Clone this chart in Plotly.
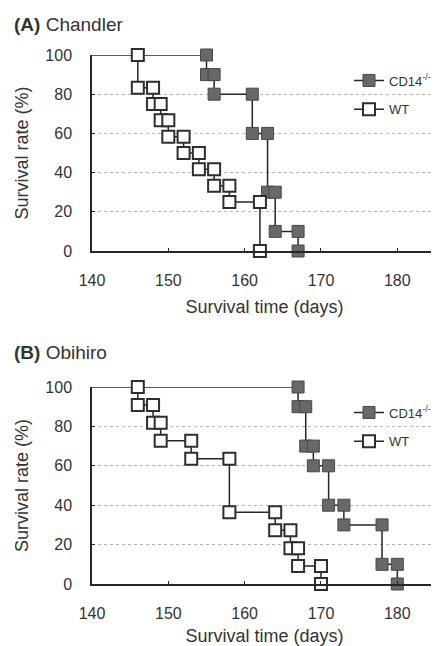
import plotly.graph_objects as go

# ---------------- data ----------------
start_day = 140
# Panel A – Chandler
a_cd14_days = [155, 156, 161, 163, 164, 167]
a_cd14_surv = [90, 80, 60, 30, 10, 0]
a_wt_days = [146, 148, 149, 150, 152, 154, 156, 158, 162]
a_wt_surv = [83.3, 75, 66.7, 58.3, 50, 41.7, 33.3, 25, 0]
# Panel B – Obihiro
b_cd14_days = [167, 168, 169, 171, 173, 178, 180]
b_cd14_surv = [90, 70, 60, 40, 30, 10, 0]
b_wt_days = [146, 148, 149, 153, 158, 164, 166, 167, 170]
b_wt_surv = [90.9, 81.8, 72.7, 63.6, 36.4, 27.3, 18.2, 9.1, 0]

x_ticks = [140, 150, 160, 170, 180]
y_ticks = [0, 20, 40, 60, 80, 100]
cd14_name = "CD14<sup>-/-</sup>"
wt_name = "WT"

# ---------------- helpers ----------------
def km_vertices(days, surv):
    xs, ys = [], []
    prev = 100
    for d, s in zip(days, surv):
        xs += [d, d]
        ys += [prev, s]
        prev = s
    return xs, ys

# page has an 8px body margin; the figure is sized to fit the window exactly
OFF = 8
W, H = 439 - OFF, 646 - OFF
ML, MR = 92 - OFF, 2
FONT = "Liberation Sans, Arial, Helvetica, sans-serif"
TXT = "#333333"
LINE = "#262626"

fig = go.Figure()

def add_panel(cd14_days, cd14_surv, wt_days, wt_surv, xa, ya, legend):
    # lead-in horizontal at 100 %
    fig.add_trace(go.Scatter(x=[start_day, max(cd14_days[0], wt_days[0])], y=[100, 100],
                             mode="lines", line=dict(color=LINE, width=1.5),
                             showlegend=False, hoverinfo="skip", xaxis=xa, yaxis=ya))
    x, y = km_vertices(cd14_days, cd14_surv)
    fig.add_trace(go.Scatter(x=x, y=y, mode="lines+markers", name=cd14_name,
                             line=dict(color=LINE, width=1.5),
                             marker=dict(symbol="square", size=12, color="#686868",
                                         line=dict(color="#474747", width=1)),
                             cliponaxis=False, xaxis=xa, yaxis=ya, legend=legend,
                             legendgroup=legend + "c"))
    x, y = km_vertices(wt_days, wt_surv)
    fig.add_trace(go.Scatter(x=x, y=y, mode="lines+markers", name=wt_name,
                             line=dict(color=LINE, width=1.5),
                             marker=dict(symbol="square", size=12, color="white",
                                         line=dict(color="#2e2e2e", width=2)),
                             cliponaxis=False, xaxis=xa, yaxis=ya, legend=legend,
                             legendgroup=legend + "w"))

add_panel(a_cd14_days, a_cd14_surv, a_wt_days, a_wt_surv, "x", "y", "legend")
add_panel(b_cd14_days, b_cd14_surv, b_wt_days, b_wt_surv, "x2", "y2", "legend2")

def px_y(page_px):
    return 1 - (page_px - OFF) / H

def px_x(page_px):
    return (page_px - OFF - ML) / (W - ML - MR)

xaxis_common = dict(range=[140, 185.2], tickvals=x_ticks, ticks="inside", ticklen=3,
                    tickcolor=LINE, showline=True, linecolor=LINE, linewidth=1.5,
                    showgrid=False, zeroline=False, ticklabelstandoff=14, automargin=False,
                    tickfont=dict(size=16, color=TXT, family=FONT),
                    title=dict(text="Survival time (days)", standoff=12,
                               font=dict(size=18, color=TXT, family=FONT)))
yaxis_common = dict(range=[0, 100], tickvals=y_ticks, ticks="inside", ticklen=3,
                    tickcolor=LINE, showline=True, linecolor=LINE, linewidth=1.5,
                    showgrid=True, gridcolor="#b5b5b5", griddash="dot", gridwidth=1,
                    zeroline=False, ticklabelstandoff=15, automargin=False,
                    tickfont=dict(size=16, color=TXT, family=FONT),
                    title=dict(text="Survival rate (%)", standoff=12,
                               font=dict(size=18, color=TXT, family=FONT)))

legend_common = dict(font=dict(size=13, color=TXT, family=FONT), bgcolor="rgba(0,0,0,0)",
                     x=px_x(349), xanchor="left", yanchor="middle", tracegroupgap=9)

fig.update_layout(
    width=W, height=H,
    margin=dict(l=ML, r=MR, t=0, b=0, autoexpand=False),
    paper_bgcolor="white", plot_bgcolor="white",
    font=dict(family=FONT, color=TXT),
    xaxis=dict(anchor="y", **xaxis_common),
    yaxis=dict(domain=[px_y(251), px_y(55)], anchor="x", **yaxis_common),
    xaxis2=dict(anchor="y2", **xaxis_common),
    yaxis2=dict(domain=[px_y(584), px_y(387)], anchor="x2", **yaxis_common),
    legend=dict(y=px_y(95), **legend_common),
    legend2=dict(y=px_y(427), **legend_common),
    annotations=[
        dict(text="<b>(A)</b> Chandler", xref="paper", yref="paper", x=px_x(12), y=px_y(24),
             xanchor="left", yanchor="middle", showarrow=False,
             font=dict(size=19, color=TXT, family=FONT)),
        dict(text="<b>(B)</b> Obihiro", xref="paper", yref="paper", x=px_x(12), y=px_y(352),
             xanchor="left", yanchor="middle", showarrow=False,
             font=dict(size=19, color=TXT, family=FONT)),
    ],
)

fig.write_html("out.html")
